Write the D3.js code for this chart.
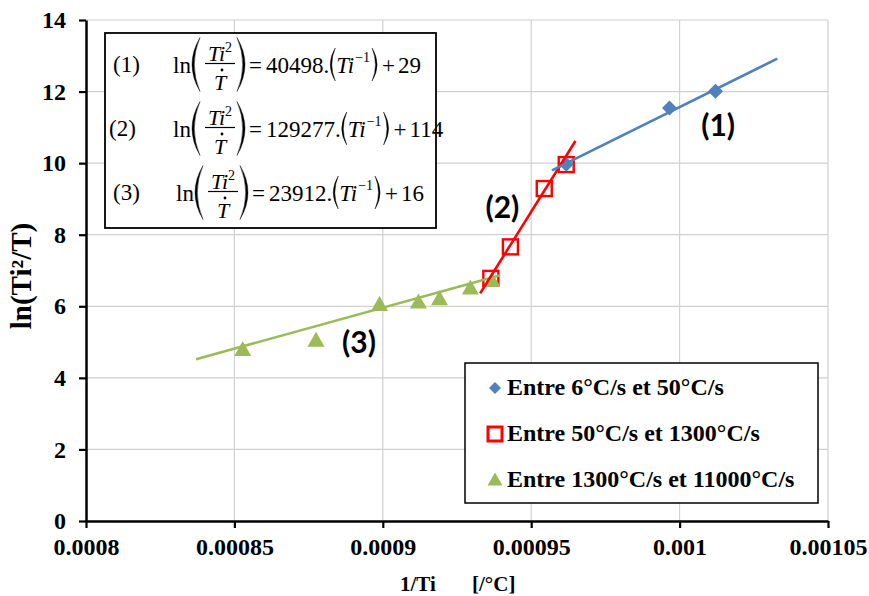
<!DOCTYPE html>
<html><head><meta charset="utf-8">
<script src="https://cdn.jsdelivr.net/npm/d3@7"></script>
<style>body{margin:0;background:#fff}svg{display:block}</style>
</head><body><svg id="c" width="869" height="596"></svg>
<script>
// ---------- data ----------
const xTicks = [0.0008, 0.00085, 0.0009, 0.00095, 0.001, 0.00105];
const xTickLabels = ["0.0008", "0.00085", "0.0009", "0.00095", "0.001", "0.00105"];
const yTicks = [0, 2, 4, 6, 8, 10, 12, 14];

const s1X = [0.0009618, 0.0009966, 0.0010121];
const s1Y = [9.97, 11.54, 12.01];
const s2X = [0.0009364, 0.000943, 0.0009544, 0.0009618];
const s2Y = [6.78, 7.66, 9.29, 9.96];
const s3X = [0.0008528, 0.0008775, 0.0008989, 0.000912, 0.0009191, 0.0009295, 0.0009368];
const s3Y = [4.82, 5.08, 6.08, 6.15, 6.24, 6.54, 6.75];

const trend1X = [0.000957, 0.0010329], trend1Y = [9.80, 12.92];
const trend2X = [0.0009328, 0.0009649], trend2Y = [6.36, 10.62];
const trend3X = [0.0008371, 0.0009396], trend3Y = [4.52, 6.87];

const legendLabels = ["Entre 6°C/s et 50°C/s", "Entre 50°C/s et 1300°C/s", "Entre 1300°C/s et 11000°C/s"];
const eqNums = ["(1)", "(2)", "(3)"];
const eqCoefs = ["40498.", "129277.", "23912."];
const eqConsts = ["29", "114", "16"];
const curveLabels = ["(1)", "(2)", "(3)"];
const curveLabelX = [0.001013, 0.0009403, 0.000892];
const curveLabelY = [11.06, 8.77, 5.0];

const colors = ["#4F81BD", "#FF0000", "#9BBB59"];

// ---------- setup ----------
const svg = d3.select("#c");
const x = d3.scaleLinear().domain([0.0008, 0.00105]).range([86, 828]);
const y = d3.scaleLinear().domain([0, 14]).range([521, 20]);
const SERIF = "'Liberation Serif','Times New Roman',serif";

// grid
const grid = svg.append("g");
grid.selectAll(".gx").data(xTicks.slice(1)).join("line")
  .attr("x1", d => x(d)).attr("x2", d => x(d)).attr("y1", y(14)).attr("y2", y(0))
  .attr("stroke", "#d0d0d0").attr("stroke-width", 1.2);
grid.selectAll(".gy").data(yTicks.slice(1)).join("line")
  .attr("x1", x(0.0008)).attr("x2", x(0.00105)).attr("y1", d => y(d)).attr("y2", d => y(d))
  .attr("stroke", "#d0d0d0").attr("stroke-width", 1.2);

// axes
const xAxis = d3.axisBottom(x).tickValues(xTicks).tickFormat((d, i) => xTickLabels[i]).tickSize(7).tickSizeOuter(0).tickPadding(14);
const yAxis = d3.axisLeft(y).tickValues(yTicks).tickFormat(d3.format("d")).tickSize(7).tickSizeOuter(0).tickPadding(13);
const gx = svg.append("g").attr("transform", `translate(0,${y(0)})`).call(xAxis);
const gy = svg.append("g").attr("transform", `translate(${x(0.0008)},0)`).call(yAxis);
[gx, gy].forEach(g => {
  g.select(".domain").attr("stroke", "#000").attr("stroke-width", 2.5);
  g.selectAll(".tick line").attr("stroke", "#000").attr("stroke-width", 2.2);
  g.selectAll(".tick text").attr("fill", "#000").style("font-family", SERIF)
    .style("font-weight", "bold").style("font-size", "24px");
});
gx.selectAll(".tick text").attr("dy", "0.71em").attr("y", 17);

// axis titles
svg.append("text").attr("x", 400).attr("y", 591).text("1/Ti")
  .style("font-family", SERIF).style("font-weight", "bold").style("font-size", "21px");
svg.append("text").attr("x", 472).attr("y", 591).text("[/°C]")
  .style("font-family", SERIF).style("font-weight", "bold").style("font-size", "21px");
svg.append("text").attr("transform", "translate(31,276) rotate(-90)").attr("text-anchor", "middle")
  .text("ln(Ti²/T)").style("font-family", SERIF).style("font-weight", "bold").style("font-size", "29px");

// marker shapes
function diamond(cx, cy, r) { return `M${cx},${cy - r}L${cx + r},${cy}L${cx},${cy + r}L${cx - r},${cy}Z`; }
function triangle(cx, cy, w, h) { return `M${cx},${cy - h / 2}L${cx + w / 2},${cy + h / 2}L${cx - w / 2},${cy + h / 2}Z`; }

const marks = svg.append("g");
// red squares
marks.selectAll(".sq").data(d3.zip(s2X, s2Y)).join("rect")
  .attr("x", d => x(d[0]) - 7.5).attr("y", d => y(d[1]) - 7.5).attr("width", 15).attr("height", 15)
  .attr("fill", "none").attr("stroke", colors[1]).attr("stroke-width", 2.4);
// blue diamonds
marks.selectAll(".dm").data(d3.zip(s1X, s1Y)).join("path")
  .attr("d", d => diamond(x(d[0]), y(d[1]), 7.5)).attr("fill", colors[0]);
// green triangles
marks.selectAll(".tr").data(d3.zip(s3X, s3Y)).join("path")
  .attr("d", d => triangle(x(d[0]), y(d[1]), 17, 15)).attr("fill", colors[2]);

// trend lines
const line = d3.line().x(d => x(d[0])).y(d => y(d[1]));
[[trend3X, trend3Y, colors[2]], [trend2X, trend2Y, colors[1]], [trend1X, trend1Y, colors[0]]].forEach(([tx, ty, c]) => {
  svg.append("path").attr("d", line(d3.zip(tx, ty))).attr("stroke", c).attr("stroke-width", 2.6).attr("fill", "none");
});

// curve labels
svg.selectAll(".cl").data(curveLabels).join("text")
  .attr("x", (d, i) => x(curveLabelX[i])).attr("y", (d, i) => y(curveLabelY[i])).attr("dy", "0.36em")
  .attr("text-anchor", "middle").text(d => d)
  .style("font-family", "Lato, 'Open Sans', sans-serif").style("font-weight", "bold").style("font-size", "30px");

// legend
const lg = svg.append("g");
lg.append("rect").attr("x", 465).attr("y", 363).attr("width", 353).attr("height", 140)
  .attr("fill", "#fff").attr("stroke", "#000").attr("stroke-width", 1.5);
const legY = [395, 441, 487];
lg.selectAll(".lt").data(legendLabels).join("text")
  .attr("x", 507).attr("y", (d, i) => legY[i]).text(d => d)
  .style("font-family", SERIF).style("font-weight", "bold").style("font-size", "24px");
lg.append("path").attr("d", diamond(495, legY[0] - 7, 6)).attr("fill", colors[0]);
lg.append("rect").attr("x", 488).attr("y", legY[1] - 14).attr("width", 14).attr("height", 14)
  .attr("fill", "none").attr("stroke", colors[1]).attr("stroke-width", 3);
lg.append("path").attr("d", triangle(495, legY[2] - 8, 15, 13)).attr("fill", colors[2]);

// equation box
const eb = svg.append("g");
eb.append("rect").attr("x", 105).attr("y", 33).attr("width", 331).attr("height", 195)
  .attr("fill", "#fff").attr("stroke", "#000").attr("stroke-width", 1.8);

function paren(g, px, top, bot, w, th, left) {
  const m = (top + bot) / 2;
  const d = left
    ? `M${px + w},${top}Q${px - w},${m} ${px + w},${bot}Q${px - w + 2 * th},${m} ${px + w},${top}Z`
    : `M${px},${top}Q${px + 2 * w},${m} ${px},${bot}Q${px + 2 * w - 2 * th},${m} ${px},${top}Z`;
  g.append("path").attr("d", d).attr("fill", "#000").attr("stroke", "#000").attr("stroke-width", 0.4);
}
function txt(g, tx, ty, s, size, italic) {
  return g.append("text").attr("x", tx).attr("y", ty).text(s)
    .style("font-family", SERIF).style("font-size", size + "px").style("font-style", italic ? "italic" : "normal");
}
const rowBase = [73, 137, 201];
const labX = [113, 109, 113];
const lnX = [173, 173, 176];
rowBase.forEach((b, i) => {
  const g = eb.append("g");
  txt(g, labX[i], b - 1, eqNums[i], 23, false);
  txt(g, lnX[i], b, "ln", 23, false);
  const bar = b - 9.5;
  const lp = lnX[i] + 19;
  paren(g, lp, bar - 26, bar + 28, 8, 2.3, true);
  const f0 = lp + 13, f1 = f0 + 30;
  g.append("line").attr("x1", f0).attr("x2", f1).attr("y1", bar).attr("y2", bar).attr("stroke", "#000").attr("stroke-width", 1.2);
  const num = g.append("text").attr("x", (f0 + f1) / 2).attr("y", bar - 2.5).attr("text-anchor", "middle")
    .style("font-family", SERIF).style("font-size", "22px");
  num.append("tspan").text("Ti").style("font-style", "italic");
  num.append("tspan").text("2").attr("dy", -9).style("font-size", "14px");
  txt(g, (f0 + f1) / 2 - 6, bar + 26, "T", 22, true);
  g.append("circle").attr("cx", (f0 + f1) / 2 + 2).attr("cy", bar + 6.5).attr("r", 1.4).attr("fill", "#000");
  const rp = f1 + 2;
  paren(g, rp, bar - 26, bar + 28, 8, 2.3, false);
  const eqx = rp + 12;
  txt(g, eqx, b, "=", 23, false);
  const cx0 = eqx + 17;
  const coef = txt(g, cx0, b, eqCoefs[i], 23, false);
  const cEnd = cx0 + coef.node().getComputedTextLength();
  paren(g, cEnd + 1, b - 25, b + 8, 5, 1.6, true);
  const ti = txt(g, cEnd + 7, b, "Ti", 23, true);
  const tiEnd = cEnd + 7 + ti.node().getComputedTextLength();
  const sup = txt(g, tiEnd + 1, b - 11, "\u22121", 14, false);
  const supEnd = tiEnd + 1 + sup.node().getComputedTextLength();
  paren(g, supEnd + 2, b - 25, b + 8, 5, 1.6, false);
  const plx = supEnd + 12;
  const pl = txt(g, plx, b, "+", 23, false);
  txt(g, plx + pl.node().getComputedTextLength() + 3, b, eqConsts[i], 23, false);
});
</script></body></html>
